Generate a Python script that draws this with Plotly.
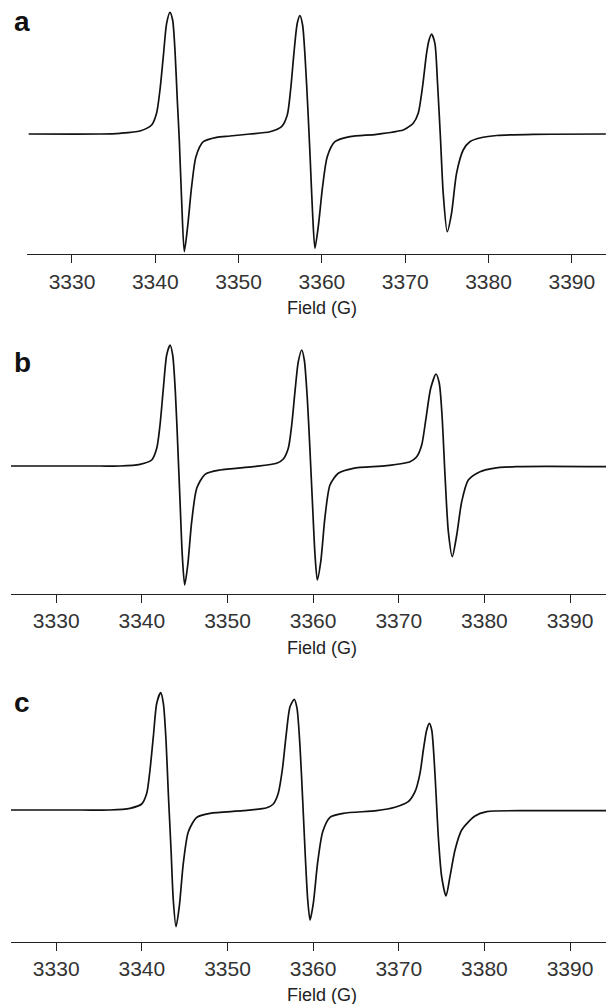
import plotly.graph_objects as go

# ---------------- data (signal in arbitrary units) ----------------
field_a = [3324.8, 3333.4, 3335.76, 3338.16, 3339.56, 3340.16, 3340.56, 3340.96, 3341.36, 3341.76,
           3342.08, 3342.36, 3342.64, 3342.88, 3343.16, 3343.48, 3343.88, 3344.36, 3344.88, 3345.76,
           3347.36, 3348.96, 3351.36, 3353.76, 3355.16, 3355.84, 3356.24, 3356.64, 3357.04, 3357.36,
           3357.68, 3358.0, 3358.32, 3358.6, 3358.88, 3359.16, 3359.56, 3360.08, 3360.64, 3361.56,
           3363.36, 3366.56, 3369.76, 3370.16, 3370.96, 3371.56, 3372.08, 3372.56, 3372.86, 3373.16,
           3373.56, 3373.88, 3374.24, 3374.56, 3375.04, 3375.56, 3376.16, 3376.96, 3377.76, 3379.2,
           3381.0, 3385.36, 3394.08]
signal_a = [0, 0, 0.7, 3, 9, 21, 44, 77.3, 110.7, 121.7,
            114, 84, 34, -6, -66, -117.7, -92.7, -52.7, -22.7, -7.7,
            -3.3, -2, 0, 2.3, 7.3, 19, 44, 80.7, 110.7, 118.3,
            109, 74, 24, -26, -79.3, -114.3, -92.7, -52.7, -22.7, -7.7,
            -2.7, -0.3, 4, 5.7, 10.7, 20.7, 47.3, 80.7, 94, 100,
            90.7, 50.7, -6, -59.3, -97.7, -79.3, -39.3, -16, -7.7, -3.5,
            -1.5, -0.3, 0]

field_b = [3324.72, 3335.11, 3337.45, 3339.79, 3341.15, 3341.74, 3342.12, 3342.51, 3342.90, 3343.29,
           3343.60, 3343.91, 3344.19, 3344.46, 3344.72, 3345.00, 3345.36, 3345.82, 3346.41, 3347.38,
           3349.13, 3353.02, 3355.75, 3356.52, 3357.10, 3357.50, 3357.88, 3358.27, 3358.67, 3358.97,
           3359.32, 3359.64, 3359.95, 3360.22, 3360.49, 3360.89, 3361.39, 3361.97, 3362.94, 3364.69,
           3368.59, 3371.31, 3372.10, 3372.68, 3373.18, 3373.73, 3374.35, 3374.73, 3375.05, 3375.40,
           3375.79, 3376.25, 3376.77, 3377.35, 3378.12, 3379.49, 3381.04, 3383.77, 3394.2]
signal_b = [0, 0, 0, 1.7, 6, 17.7, 41, 77.7, 111, 121,
            111, 74.3, 21, -35.7, -89, -119, -99, -55.7, -22.3, -8.3,
            -4, -0.7, 2.7, 7, 17.7, 41, 74.3, 104.3, 116, 106,
            67.7, 14.3, -42.3, -89, -114, -95.7, -50.7, -19, -7.3, -2.3,
            0.3, 4.3, 9.3, 21, 47.7, 77.7, 92, 82.7, 51, -9,
            -65.7, -90.7, -69, -35.7, -14, -5.7, -2.3, -0.7, -0.7]

field_c = [3324.72, 3333.0, 3336.28, 3338.62, 3339.98, 3340.57, 3340.95, 3341.34, 3341.74, 3342.20,
           3342.51, 3342.82, 3343.09, 3343.41, 3343.67, 3343.99, 3344.37, 3344.84, 3345.43, 3346.41,
           3347.96, 3351.85, 3354.58, 3355.35, 3355.93, 3356.40, 3356.83, 3357.30, 3357.80, 3358.12,
           3358.47, 3358.78, 3359.09, 3359.37, 3359.64, 3360.02, 3360.54, 3361.12, 3361.97, 3363.52,
           3367.42, 3369.56, 3371.11, 3371.90, 3372.48, 3372.87, 3373.26, 3373.57, 3373.85, 3374.11,
           3374.35, 3374.62, 3375.01, 3375.52, 3375.98, 3376.57, 3377.35, 3378.90, 3380.27, 3385.71,
           3394.2]
signal_c = [0, 0, 0, 1.7, 6, 16.7, 40, 73.3, 106.7, 117.3,
            106.7, 70, 16.7, -40, -90, -116.7, -96.7, -53.3, -21.7, -7.3,
            -3.3, -0.7, 2.3, 6, 16.7, 40, 73.3, 103.3, 110.7, 101.7,
            63.3, 10, -46.7, -90, -110, -93.3, -51.7, -21.7, -7.3, -3.3,
            -0.7, 2.7, 8.3, 18.3, 36.7, 60, 80, 86.7, 80, 53.3,
            16.7, -26.7, -66.7, -86, -66.7, -40, -20, -6, -1.7, -0.7,
            -0.7]

panel_labels = ["a", "b", "c"]
tick_values = [3330, 3340, 3350, 3360, 3370, 3380, 3390]
tick_text = ["3330", "3340", "3350", "3360", "3370", "3380", "3390"]
x_title = "Field (G)"

# ---------------- figure ----------------
W, H = 606, 1004
fig = go.Figure()

panels = [
    # (x, y, xdomain px left, y bottom px, y top px, xrange, yrange, label y px)
    (field_a, signal_a, 27, 254.3, 5, [3324.6, 3394.1], [-120.3, 129], 22),
    (field_b, signal_b, 11, 594.0, 335, [3324.72, 3394.2], [-128, 131], 362),
    (field_c, signal_c, 11, 941.7, 680, [3324.72, 3394.2], [-131.7, 130], 702),
]

def py(p):
    return 1 - p / H

for i, (xs, ys, xl, yb, yt, xr, yr, ly) in enumerate(panels):
    n = "" if i == 0 else str(i + 1)
    fig.add_trace(go.Scatter(
        x=xs, y=ys, mode="lines", xaxis="x" + n, yaxis="y" + n,
        line=dict(color="#111111", width=1.7, shape="spline", smoothing=0.7),
        hoverinfo="skip", showlegend=False))
    fig.layout["xaxis" + n] = dict(
        domain=[xl / W, 1], range=xr, anchor="y" + n,
        showgrid=False, zeroline=False, showline=True, linecolor="#222222", linewidth=1.3,
        ticks="outside", ticklen=8, tickwidth=1.2, tickcolor="#222222",
        tickvals=tick_values, ticktext=tick_text,
        tickfont=dict(family="Liberation Sans, Arial, sans-serif", size=21, color="#333333"),
        ticklabelstandoff=0)
    fig.layout["yaxis" + n] = dict(
        domain=[py(yb), py(yt)], range=yr, anchor="x" + n,
        visible=False, showgrid=False, zeroline=False)
    # axis title
    fig.add_annotation(
        x=(321.5) / W, y=py(yb + 53.5), xref="paper", yref="paper",
        text=x_title, showarrow=False, xanchor="center", yanchor="middle",
        font=dict(family="Liberation Sans, Arial, sans-serif", size=18, color="#222222"))
    # panel letter
    fig.add_annotation(
        x=12 / W, y=py(ly), xref="paper", yref="paper",
        text="<b>" + panel_labels[i] + "</b>", showarrow=False, xanchor="left", yanchor="middle",
        font=dict(family="Liberation Sans, Arial, sans-serif", size=28, color="#111111"))

fig.update_layout(
    width=W, height=H, margin=dict(l=0, r=0, t=0, b=0),
    paper_bgcolor="white", plot_bgcolor="white", showlegend=False)

fig.write_html("out.html")
